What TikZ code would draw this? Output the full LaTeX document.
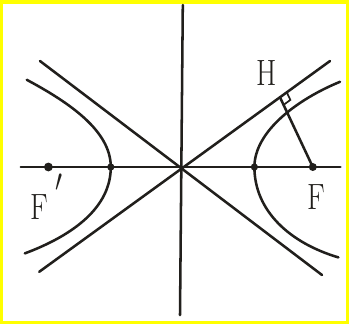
\documentclass[tikz,border=0pt]{standalone}
\usepackage{tikz}
\usetikzlibrary{calc}
\definecolor{inkB}{rgb}{0.13,0.12,0.11}
\definecolor{frameY}{rgb}{1,1,0}
\newcommand{\lbl}[1]{\scalebox{0.8}[1]{\fontsize{26}{30}\selectfont #1}}

\begin{document}
\begin{tikzpicture}[line cap=round, line width=1.8pt, color=inkB]
% 边框
\fill[frameY] (-4.55,-3.925) rectangle (4.175,4.175);
\fill[white] (-4.4625,-3.8375) rectangle (4.0875,4.0875);
\useasboundingbox (-4.55,-3.925) rectangle (4.175,4.175);
% 坐标轴
\draw (-4.03,0) -- (3.96,0);
\draw (0.02,4.05) -- (-0.05,-3.7);
% 渐近线
\coordinate (P1) at (-3.57,-2.62);
\coordinate (P2) at (3.7,2.65);
\draw (-3.55,2.65) -- (3.5,-2.7);
\draw (P1) -- (P2);
% 双曲线两支
\draw (3.95,2.13) .. controls (2.9,1.7) and (1.81,0.9) .. (1.81,0)
  .. controls (1.81,-1.1) and (2.7,-1.9) .. (3.91,-2.26);
\draw (-3.88,2.18) .. controls (-2.8,1.6) and (-1.78,0.9) .. (-1.78,0)
  .. controls (-1.78,-1.0) and (-2.7,-1.7) .. (-3.93,-2.16);
% 焦点与顶点
\coordinate (F) at (3.27,0);
\coordinate (Fl) at (-3.34,0);
\fill (F) circle (0.1);
\fill (Fl) circle (0.11);
\fill (1.81,0) circle (0.09);
\fill (-1.78,0) circle (0.09);
% 垂线 FH 与直角记号
\coordinate (H) at ($(P1)!0.828!(P2)$);
\draw (F) -- (H);
\coordinate (Ha) at ($(H)!0.21cm!(P2)$);
\coordinate (Hb) at ($(H)!0.21cm!(F)$);
\draw[line width=1.2pt] (Ha) -- ($(Ha)+(Hb)-(H)$) -- (Hb);
% 标注
\node at (2.12,2.34) {\lbl{H}};
\node at (3.35,-0.74) {\lbl{F}};
\node at (-3.38,-0.74) {\lbl{F\hspace{0.25em}\raisebox{0.3em}{\scalebox{1.3}{$'$}}}};
\end{tikzpicture}
\end{document}
